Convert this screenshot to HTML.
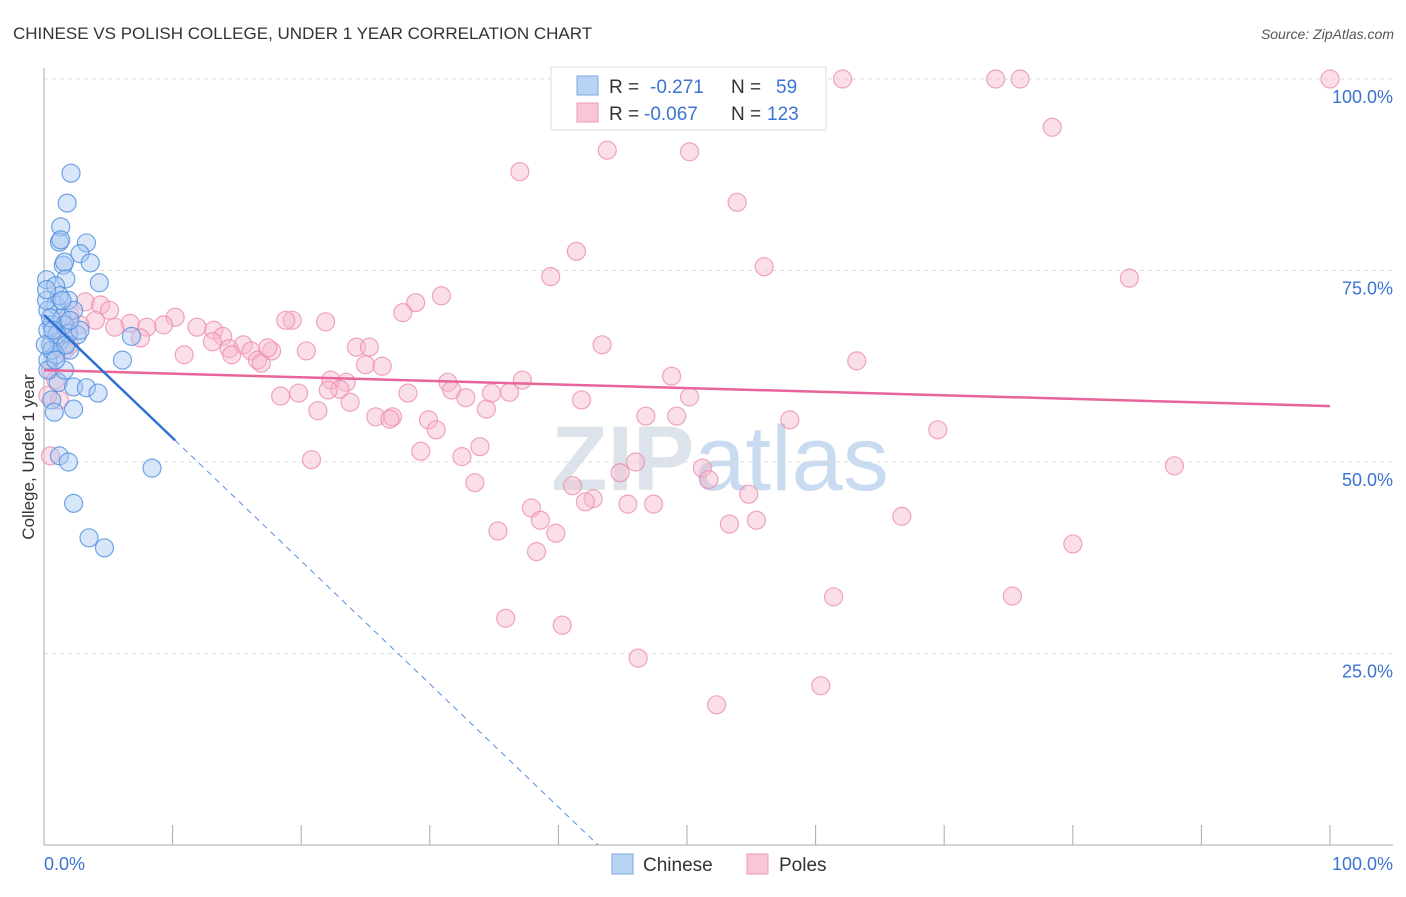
<!DOCTYPE html>
<html><head><meta charset="utf-8"><style>
body{margin:0;background:#fff;font-family:"Liberation Sans",sans-serif;}
svg text{font-family:"Liberation Sans",sans-serif;}
</style></head><body>
<svg id="chart" width="1406" height="892" viewBox="0 0 1406 892" xmlns="http://www.w3.org/2000/svg">
<text x="13" y="39" font-size="17" fill="#333">CHINESE VS POLISH COLLEGE, UNDER 1 YEAR CORRELATION CHART</text>
<text x="1394" y="39" font-size="14" fill="#555" font-style="italic" text-anchor="end">Source: ZipAtlas.com</text>
<text x="720" y="490" font-size="92" fill="#dde3ea" text-anchor="middle" font-weight="bold">ZIP<tspan fill="#c9dbf0" font-weight="normal">atlas</tspan></text>
<g id="grid"></g>
<g id="axes"></g>
<text transform="translate(34,457) rotate(-90)" font-size="17" fill="#333" text-anchor="middle">College, Under 1 year</text>
<g id="pink"></g>
<g id="blue"></g>
<g id="trends"></g>
<g>
<rect x="551" y="67" width="275" height="63" fill="#fff" stroke="#ddd"/>
<rect x="577" y="76" width="21" height="19" fill="#b9d3f5" stroke="#7aa8e6"/>
<rect x="577" y="103" width="21" height="19" fill="#f9c6d5" stroke="#ee9ab4"/>
<text x="609" y="93" font-size="19" fill="#333">R = </text><text x="650" y="93" font-size="19" fill="#3b73d1">-0.271</text>
<text x="731" y="93" font-size="19" fill="#333">N = </text><text x="776" y="93" font-size="19" fill="#3b73d1">59</text>
<text x="609" y="120" font-size="19" fill="#333">R = </text><text x="644" y="120" font-size="19" fill="#3b73d1">-0.067</text>
<text x="731" y="120" font-size="19" fill="#333">N = </text><text x="767" y="120" font-size="19" fill="#3b73d1">123</text>
</g>
<g>
<rect x="612" y="854" width="21" height="20" fill="#b9d3f5" stroke="#7aa8e6"/>
<text x="643" y="871" font-size="19" fill="#333">Chinese</text>
<rect x="747" y="854" width="21" height="20" fill="#f9c6d5" stroke="#ee9ab4"/>
<text x="779" y="871" font-size="19" fill="#333">Poles</text>
</g>
</svg>
<script>
const blueX=[2.1,1.8,1.3,1.2,3.3,1.3,2.8,3.6,1.5,1.6,1.7,4.3,0.2,0.9,0.9,1.9,0.3,1.4,2.3,0.6,1.6,2.6,1.9,0.3,0.5,1.2,2.0,0.9,0.3,6.1,6.8,1.1,2.3,3.3,4.2,0.6,2.3,0.8,1.2,1.9,8.4,2.3,3.5,4.7,0.3,0.6,0.2,1.2,0.5,1.6,1.0,0.2,2.8,0.9,0.1,0.7,1.7,1.4,2.0];
const blueY=[87.7,83.8,80.7,78.7,78.6,79.0,77.2,76.0,75.7,76.1,73.9,73.4,73.8,73.0,70.5,71.1,69.8,68.8,69.8,67.9,67.9,66.6,66.8,67.2,65.3,65.7,64.6,64.0,63.3,63.3,66.4,60.4,59.8,59.7,59.0,58.1,56.9,56.5,50.8,50.0,49.2,44.6,40.1,38.8,62.0,64.6,71.1,71.7,68.8,62.0,66.6,72.5,67.2,63.3,65.3,67.2,65.3,71.1,68.5];
const pinkX=[47.9,62.1,74.0,75.9,100,78.4,43.8,50.2,37.0,53.9,41.4,56.0,39.4,84.4,30.9,28.9,27.9,19.3,21.9,18.8,10.2,9.3,6.7,5.5,8.0,7.5,11.9,13.2,13.9,13.1,14.4,15.5,16.1,16.6,16.9,17.7,17.4,20.4,24.3,25.3,25.0,26.3,10.9,14.6,63.2,43.4,48.8,22.3,23.5,23.0,22.1,31.4,37.2,31.7,28.3,19.8,18.4,32.8,34.8,36.2,41.8,50.2,23.8,21.3,25.8,27.1,29.9,34.4,30.5,26.9,46.8,49.2,58.0,69.5,29.3,32.5,33.9,20.8,46.0,44.8,51.2,51.7,33.5,41.1,54.8,42.7,42.1,45.4,47.4,37.9,38.6,55.4,53.3,66.7,35.3,39.8,80.0,38.3,87.9,61.4,75.3,35.9,40.3,46.2,60.4,52.3,0.5,1.2,1.6,0.5,3.2,4.4,5.1,2.0,4.0,2.8,1.2,0.3,2.0,0.9];
const pinkY=[100,100,100,100,100,93.7,90.7,90.5,87.9,83.9,77.5,75.5,74.2,74.0,71.7,70.8,69.5,68.5,68.3,68.5,68.9,67.9,68.1,67.6,67.6,66.2,67.6,67.2,66.4,65.7,64.8,65.3,64.5,63.3,62.9,64.5,64.9,64.5,65.0,65.0,62.7,62.5,64.0,64.0,63.2,65.3,61.2,60.7,60.4,59.5,59.4,60.4,60.7,59.4,59.0,59.0,58.6,58.4,59.0,59.1,58.1,58.5,57.8,56.7,55.9,55.9,55.5,56.9,54.2,55.6,56.0,56.0,55.5,54.2,51.4,50.7,52.0,50.3,50.0,48.6,49.2,47.7,47.3,46.9,45.8,45.2,44.8,44.5,44.5,44.0,42.4,42.4,41.9,42.9,41.0,40.7,39.3,38.3,49.5,32.4,32.5,29.6,28.7,24.4,20.8,18.3,50.8,58.1,64.6,62.0,70.9,70.5,69.8,69.2,68.5,67.9,67.2,58.7,65.3,60.7];
const blueTrend=[69.2,-1.606,10.2]; // intercept, slope, solid-end x
const pinkTrend=[62.0,-0.047];
const yTicks=[25,50,75,100];
const yTickLabels=["25.0%","50.0%","75.0%","100.0%"];
const xTicks=[10,20,30,40,50,60,70,80,90,100];

const NS="http://www.w3.org/2000/svg";
const X0=44,X1=1330,Y0=845,Y1=79;
function sx(v){return X0+(X1-X0)*v/100;}
function sy(v){return Y0-(Y0-Y1)*v/100;}
function mk(tag,attrs,parent){const e=document.createElementNS(NS,tag);for(const k in attrs)e.setAttribute(k,attrs[k]);parent.appendChild(e);return e;}
const grid=document.getElementById('grid'),axes=document.getElementById('axes');
yTicks.forEach((t,i)=>{
  const l=mk('line',{x1:X0,x2:1393,y1:sy(t),y2:sy(t),stroke:'#ddd','stroke-dasharray':'4,4'},grid);
  
  
  const tx=mk('text',{x:1393,y:sy(t)+24,'font-size':18,fill:'#3b73d1','text-anchor':'end'},axes);
  tx.textContent=yTickLabels[i];
  
  
});
mk('line',{x1:X0,x2:X0,y1:68,y2:Y0,stroke:'#aaa'},axes);
mk('line',{x1:X0,x2:1393,y1:Y0,y2:Y0,stroke:'#aaa'},axes);
xTicks.forEach(t=>{
  const l=mk('line',{x1:sx(t),x2:sx(t),y1:Y0-20,y2:Y0,stroke:'#aaa'},axes);
  
  
});
const xl=mk('text',{x:X0,y:870,'font-size':18,fill:'#3b73d1'},axes);xl.textContent='0.0%';


const xr=mk('text',{x:1393,y:870,'font-size':18,fill:'#3b73d1','text-anchor':'end'},axes);xr.textContent='100.0%';


function dots(gid,xs,ys,fill,stroke){
  const g=document.getElementById(gid);
  xs.forEach((v,i)=>{
    const c=mk('circle',{cx:sx(v),cy:sy(ys[i]),r:9,fill:fill,'fill-opacity':0.45,stroke:stroke,'stroke-opacity':0.8,'stroke-width':1.2},g);
    
    
  });
}
dots('pink',pinkX,pinkY,'#f7b8cb','#ec8fae');
dots('blue',blueX,blueY,'#a9c8f2','#4f8ee0');
const tr=document.getElementById('trends');
const pl=mk('line',{x1:sx(0),y1:sy(pinkTrend[0]),x2:sx(100),y2:sy(pinkTrend[0]+pinkTrend[1]*100),stroke:'#e8649a','stroke-width':2.5},tr);


const bEnd=blueTrend[2],bZero=-blueTrend[0]/blueTrend[1];
const bl=mk('line',{x1:sx(0),y1:sy(blueTrend[0]),x2:sx(bEnd),y2:sy(blueTrend[0]+blueTrend[1]*bEnd),stroke:'#2f6fd6','stroke-width':2.5},tr);


const bd=mk('line',{x1:sx(bEnd),y1:sy(blueTrend[0]+blueTrend[1]*bEnd),x2:sx(bZero),y2:sy(0),stroke:'#2f6fd6','stroke-width':1,'stroke-dasharray':'6,5','stroke-opacity':0.8},tr);


</script>
</body></html>
